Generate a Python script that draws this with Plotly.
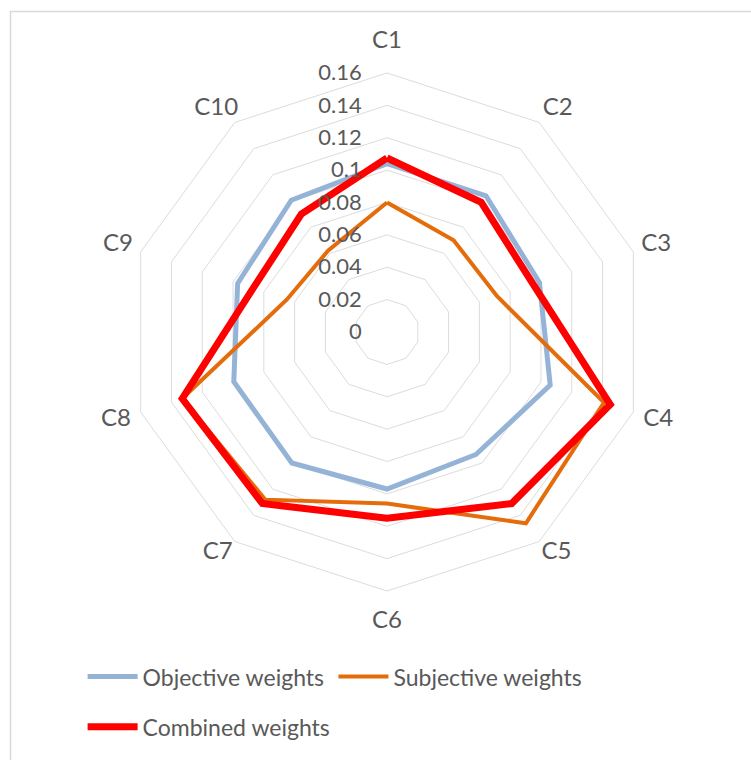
import plotly.graph_objects as go

# Criteria and weight series
categories = ["C1", "C2", "C3", "C4", "C5", "C6", "C7", "C8", "C9", "C10"]
objective = [0.104, 0.104, 0.099, 0.106, 0.0935, 0.097, 0.100, 0.0995, 0.097, 0.1006]
subjective = [0.080, 0.070, 0.0715, 0.141, 0.146, 0.106, 0.128, 0.133, 0.065, 0.062]
combined = [0.1075, 0.099, 0.095, 0.145, 0.131, 0.115, 0.131, 0.133, 0.087, 0.090]
radial_ticks = [0, 0.02, 0.04, 0.06, 0.08, 0.1, 0.12, 0.14, 0.16]
radial_ticktext = ["0", "0.02", "0.04", "0.06", "0.08", "0.1", "0.12", "0.14", "0.16"]
R_VIEW = 0.18     # axis range leaves room for the category names

# Where each category name sits just outside the 0.16 ring
label_r = [0.1792, 0.1795, 0.1748, 0.1761, 0.178, 0.1792, 0.178, 0.1761, 0.1748, 0.1795]
label_pos = ["middle center", "bottom center", "middle center", "middle center",
             "top center", "middle center", "top center", "middle center",
             "middle center", "bottom center"]

FONT = "Lato"
TEXT = "#595959"
GRID = "#DCDCDC"
CLEAR = "rgba(0,0,0,0)"


def closed(values):
    return values + values[:1]


series = [
    ("Objective weights", objective, "#95B3D7", 5, "legend"),
    ("Subjective weights", subjective, "#E46C0A", 4, "legend3"),
    ("Combined weights", combined, "#FF0000", 7, "legend2"),
]

fig = go.Figure()
for name, vals, color, width, leg in series:
    fig.add_trace(go.Scatterpolar(
        r=closed(vals),
        theta=closed(categories),
        mode="lines",
        name=name,
        legend=leg,
        line=dict(color=color, width=width),
    ))

fig.add_trace(go.Scatterpolar(
    r=label_r,
    theta=categories,
    mode="text",
    text=categories,
    textposition=label_pos,
    textfont=dict(size=24, color=TEXT, family=FONT),
    showlegend=False,
    hoverinfo="skip",
))

legend_style = dict(
    orientation="h",
    xanchor="left",
    yanchor="top",
    font=dict(size=23, color=TEXT, family=FONT),
    itemwidth=50,
    bgcolor=CLEAR,
)

fig.update_layout(
    width=751,
    height=760,
    margin=dict(l=0, r=0, t=0, b=0),
    paper_bgcolor="white",
    font=dict(family=FONT, color=TEXT, size=22),
    polar=dict(
        domain=dict(x=[95.6 / 751, 678.4 / 751], y=[136.6 / 760, 719.4 / 760]),
        gridshape="linear",
        bgcolor="white",
        radialaxis=dict(
            range=[0, R_VIEW],
            tickvals=radial_ticks,
            ticktext=radial_ticktext,
            angle=90,
            side="counterclockwise",
            tickangle=90,
            showline=False,
            ticks="outside",
            ticklen=17,
            tickcolor=CLEAR,
            gridcolor=GRID,
            gridwidth=1,
            tickfont=dict(size=22, color=TEXT, family=FONT),
        ),
        angularaxis=dict(
            rotation=90,
            direction="clockwise",
            showgrid=False,
            showline=False,
            ticks="",
            showticklabels=False,
        ),
    ),
    legend=dict(x=0.11, y=0.138, **legend_style),
    legend3=dict(x=0.444, y=0.138, **legend_style),
    legend2=dict(x=0.11, y=0.072, **legend_style),
    shapes=[
        dict(type="rect", xref="paper", yref="paper",
             x0=10.5 / 751, x1=1.05, y0=-0.05, y1=(760 - 11.5) / 760,
             line=dict(color="#D9D9D9", width=1.5)),
    ],
)

fig.write_html("out.html")
